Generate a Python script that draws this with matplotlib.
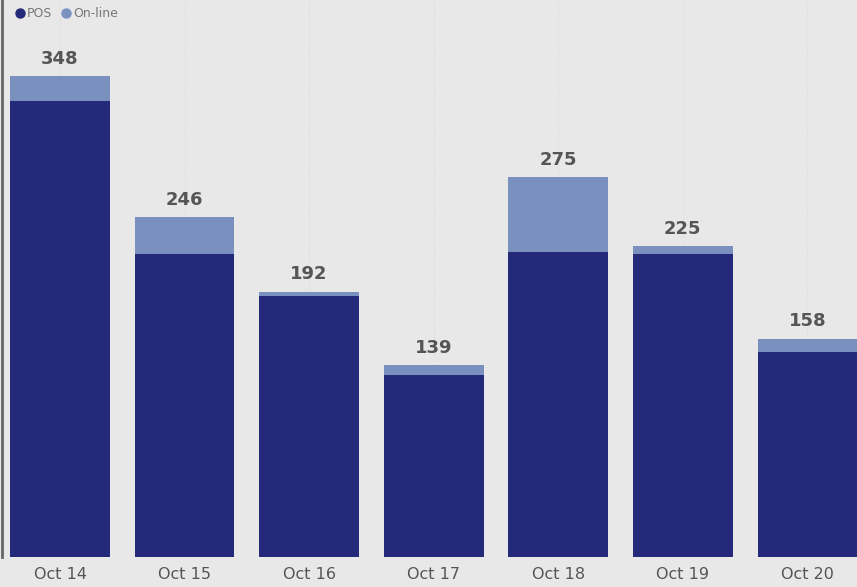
import matplotlib.pyplot as plt
from matplotlib.lines import Line2D

days = ["Oct 14", "Oct 15", "Oct 16", "Oct 17", "Oct 18", "Oct 19", "Oct 20"]
pos = [330, 219, 189, 132, 221, 219, 148]
online = [18, 27, 3, 7, 54, 6, 10]
totals = [348, 246, 192, 139, 275, 225, 158]

POS_COLOR = "#25297a"
ONLINE_COLOR = "#7a91c0"
BG = "#e8e8e8"

fig = plt.figure(figsize=(8.57, 5.87), dpi=100, facecolor=BG)
ax = fig.add_axes([2 / 857, 30 / 587, 855 / 857, 557 / 587])
ax.set_facecolor(BG)

x = list(range(len(days)))
ax.bar(x, pos, width=0.8, color=POS_COLOR, zorder=2)
ax.bar(x, online, width=0.8, bottom=pos, color=ONLINE_COLOR, zorder=2)

for i, t in enumerate(totals):
    ax.text(i, t + 6, str(t), ha="center", va="bottom",
            fontsize=13, fontweight="bold", color="#555555")

# faint vertical guides behind the bars
for i in x:
    ax.axvline(i, color="#dfdfdf", lw=0.8, ls=(0, (2, 2)), zorder=0)

ax.set_xlim(-0.466, 6.398)
ax.set_ylim(0, 403)
ax.set_xticks(x)
ax.set_xticklabels(days, fontsize=11.5, color="#555555")
ax.tick_params(axis="x", length=0, pad=7)
ax.set_yticks([])

for s in ["top", "right", "bottom"]:
    ax.spines[s].set_visible(False)
ax.spines["left"].set_color("#666666")
ax.spines["left"].set_linewidth(2)

handles = [
    Line2D([], [], marker="o", ls="", color=POS_COLOR, markersize=6.5),
    Line2D([], [], marker="o", ls="", color=ONLINE_COLOR, markersize=6.5),
]
fig.legend(handles, ["POS", "On-line"], loc="upper left",
           bbox_to_anchor=(0.003, 1.007), ncol=2, frameon=False,
           fontsize=9, labelcolor="#777777", handletextpad=0.05,
           columnspacing=0.6, handlelength=1.0)

fig.savefig("out.png", dpi=100, facecolor=BG)
